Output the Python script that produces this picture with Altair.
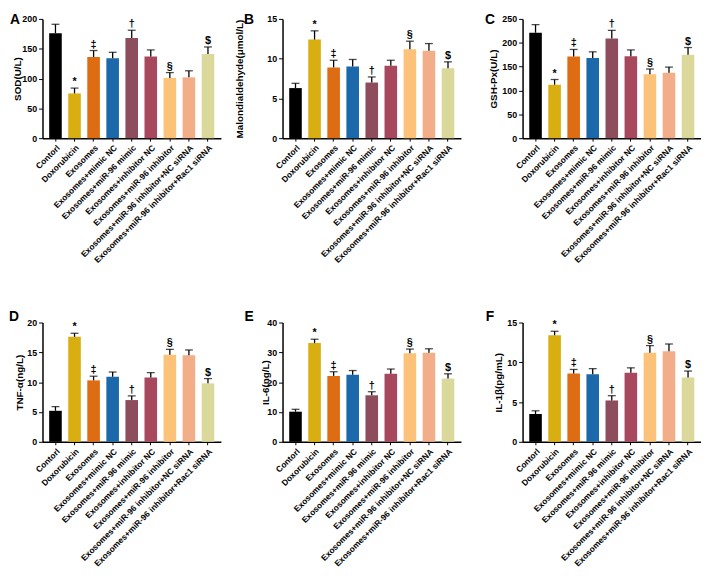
import altair as alt
import pandas as pd

groups = ["Contorl", "Doxorubicin", "Exosomes", "Exosomes+mimic NC", "Exosomes+miR-96 mimic",
          "Exosomes+inhibitor NC", "Exosomes+miR-96 inhibitor", "Exosomes+miR-96 inhibitor+NC siRNA",
          "Exosomes+miR-96 inhibitor+Rac1 siRNA"]
colors = ["#000000", "#D8AE10", "#DE6C13", "#1B68AA", "#8E4D5C", "#A8485E", "#FDC27A", "#F2AE88", "#DAD89A"]
symbols = ["", "*", "‡", "", "†", "", "§", "", "$"]

sod_mean = [176, 75, 136, 134, 168, 137, 101, 102, 141]
sod_upper = [191, 84, 147, 144, 181, 148, 110, 113, 153]
mda_mean = [6.3, 12.4, 8.9, 9.0, 7.0, 9.1, 11.2, 11.0, 8.8]
mda_upper = [6.9, 13.5, 9.8, 9.9, 7.7, 9.8, 12.2, 11.9, 9.6]
gsh_mean = [221, 112, 171, 168, 209, 172, 134, 137, 175]
gsh_upper = [238, 123, 186, 181, 226, 185, 145, 149, 190]
tnf_mean = [5.2, 17.6, 10.3, 10.9, 7.0, 10.8, 14.6, 14.5, 9.8]
tnf_upper = [5.9, 18.2, 11.0, 11.7, 7.7, 11.6, 15.5, 15.4, 10.6]
il6_mean = [10.1, 33.1, 22.1, 22.5, 15.6, 22.8, 29.7, 29.9, 21.2]
il6_upper = [10.9, 34.4, 23.5, 23.9, 16.8, 24.4, 31.1, 31.2, 22.8]
il1b_mean = [3.5, 13.4, 8.6, 8.5, 5.2, 8.7, 11.2, 11.4, 8.1]
il1b_upper = [3.9, 13.9, 9.1, 9.2, 5.8, 9.3, 12.1, 12.3, 8.9]

FONT = "Liberation Sans"
W, H = 181, 121


def panel(letter, title, mean, upper, ymax, ticks, title_x, letter_x, letter_y):
    df = pd.DataFrame({"group": groups, "mean": mean, "upper": upper, "sym": symbols})
    x = alt.X("group:N", sort=groups,
              scale=alt.Scale(paddingInner=0.34, paddingOuter=0.35),
              axis=alt.Axis(title=None, labelAngle=-45, labelFontSize=8.5, labelFontWeight="bold",
                            labelFont=FONT, labelLimit=400, labelPadding=2, tickSize=3,
                            tickColor="black", domainColor="black", domainWidth=1.5,
                            labelColor="black"))
    yscale = alt.Scale(domain=[0, ymax], nice=False)

    def yaxis():
        return alt.Axis(title=title, values=ticks, grid=False,
                        labelFontSize=9, labelOverlap=False,
                        labelFontWeight="bold", labelFont=FONT, labelColor="black",
                        titleFont=FONT, titleFontSize=10, titleFontWeight="bold",
                        titleColor="black", titleX=title_x, titleBaseline="middle",
                        tickSize=4, tickColor="black", domainColor="black",
                        domainWidth=1.5, labelPadding=2)

    base = alt.Chart(df).encode(x=x)
    bars = base.mark_bar().encode(
        y=alt.Y("mean:Q", scale=yscale, axis=yaxis(), title=title),
        color=alt.Color("group:N", scale=alt.Scale(domain=groups, range=colors), legend=None),
    )
    rule = base.mark_rule(color="black", strokeWidth=1.3).encode(
        y=alt.Y("mean:Q", scale=yscale, axis=yaxis(), title=title), y2="upper:Q")
    cap = base.mark_tick(color="black", size=8, thickness=1.3).encode(
        y=alt.Y("upper:Q", scale=yscale, axis=yaxis(), title=title))
    txt = base.mark_text(baseline="bottom", dy=-1, fontSize=11, fontWeight="bold",
                         font=FONT, color="black").encode(
        y=alt.Y("upper:Q", scale=yscale, axis=yaxis(), title=title), text="sym:N")
    lab = alt.Chart(pd.DataFrame({"l": [letter]})).mark_text(
        fontSize=14, fontWeight="bold", font=FONT, color="black", align="center",
        baseline="top").encode(x=alt.value(letter_x), y=alt.value(letter_y), text="l:N")
    return alt.layer(bars, rule, cap, txt, lab).properties(width=W, height=H)


pA = panel("A", "SOD(U/L)", sod_mean, sod_upper, 200, [0, 50, 100, 150, 200], -25, -28, -6)
pB = panel("B", "Malondialdehyde(μmol/L)", mda_mean, mda_upper, 15, [0, 5, 10, 15], -44, -34, -6)
pC = panel("C", "GSH-Px(U/L)", gsh_mean, gsh_upper, 250, [0, 50, 100, 150, 200, 250], -29, -33, -6)
pD = panel("D", "TNF-α(ng/L)", tnf_mean, tnf_upper, 20, [0, 5, 10, 15, 20], -23, -29, -13)
pE = panel("E", "IL-6(ng/L)", il6_mean, il6_upper, 40, [0, 10, 20, 30, 40], -17, -34, -13)
pF = panel("F", "IL-1β(pg/mL)", il1b_mean, il1b_upper, 15, [0, 5, 10, 15], -24, -33, -13)

chart = alt.concat(pA, pB, pC, pD, pE, pF, columns=3,
                   spacing=alt.RowColnumber(row=187, column=62.5),
                   bounds="flush").properties(
    padding={"left": 0, "top": 0, "right": 0, "bottom": 0}, background="white"
).configure_view(stroke=None)

chart.save("out.html", embed_options={"renderer": "svg", "actions": False})
